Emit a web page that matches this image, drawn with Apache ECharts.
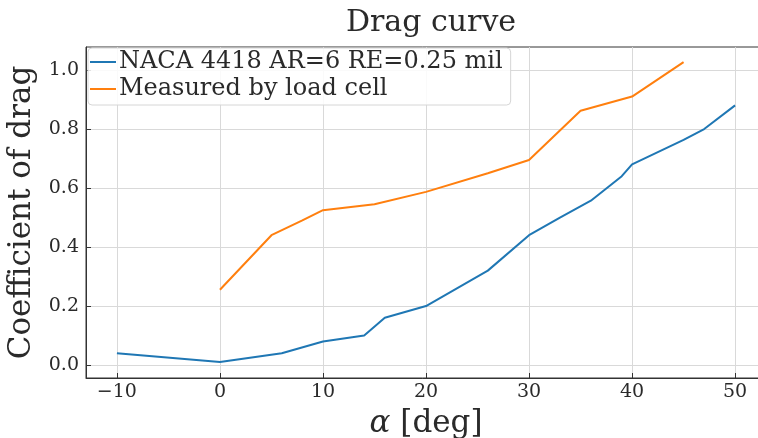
<!DOCTYPE html>
<html>
<head>
<meta charset="utf-8">
<script src="https://cdn.jsdelivr.net/npm/echarts@6/dist/echarts.min.js"></script>
<style>
  html, body { margin: 0; padding: 0; background: #fff; }
  #chart { width: 758px; height: 438px; }
</style>
</head>
<body>
<div id="chart"></div>
<script>
// angle of attack (deg) and drag coefficient
const nacaAlpha = [-10, 0, 6, 10, 14, 16, 20, 26, 30, 33, 36, 39, 40, 45, 47, 50];
const nacaCd = [0.04, 0.01, 0.04, 0.08, 0.10, 0.16, 0.20, 0.32, 0.44, 0.50, 0.557, 0.64, 0.68, 0.763, 0.80, 0.88];

const cellAlpha = [0, 5, 8, 10, 15, 20, 26, 30, 35, 40, 45];
const cellCd = [0.255, 0.44, 0.49, 0.525, 0.545, 0.587, 0.65, 0.695, 0.862, 0.91, 1.027];

const xTicks = [-10, 0, 10, 20, 30, 40, 50];
const yTicks = [0, 0.2, 0.4, 0.6, 0.8, 1.0];

const seriesNames = ['NACA 4418 AR=6 RE=0.25 mil', 'Measured by load cell'];

const FONT = 'DejaVu Serif';
const TXT = '#2a2a2a';

const chart = echarts.init(document.getElementById('chart'), null, { renderer: 'canvas' });

const options = {
    animation: false,
    backgroundColor: '#fff',
    title: {
        text: 'Drag curve',
        left: 426,
        top: 3,
        textAlign: 'center',
        textStyle: { fontFamily: FONT, fontSize: 30, fontWeight: 'normal', color: TXT },
    },
    legend: {
        orient: 'vertical',
        left: 88,
        top: 48,
        icon: 'rect',
        itemWidth: 26,
        itemHeight: 2,
        itemGap: 3,
        padding: [2, 8, 4, 2],
        backgroundColor: 'rgba(255,255,255,0.85)',
        borderColor: '#d6d6d6',
        borderWidth: 1,
        borderRadius: 4,
        textStyle: { fontFamily: FONT, fontSize: 24, color: TXT, padding: [0, 0, 0, -2] },
        data: seriesNames,
    },
    grid: {
        left: 86,
        right: -8,
        top: 47,
        bottom: 60,
        outerBoundsMode: 'none',
        show: true,
        borderColor: '#333',
        borderWidth: 1,
    },
    xAxis: {
        type: 'value',
        min: -13,
        max: 53,
        name: '{a|α} [deg]',
        nameLocation: 'middle',
        nameGap: 30,
        nameTextStyle: {
            fontFamily: FONT, fontSize: 31, color: TXT,
            rich: { a: { fontFamily: FONT, fontSize: 31, fontStyle: 'italic', color: TXT } },
        },
        axisLine: { onZero: false, lineStyle: { color: '#333', width: 1 } },
        axisTick: { inside: true, length: 5, customValues: xTicks, lineStyle: { color: '#333' } },
        axisLabel: {
            customValues: xTicks,
            margin: 5,
            fontFamily: FONT, fontSize: 19, color: TXT,
            formatter: v => (v < 0 ? '\u2212' + (-v) : String(v)),
        },
        splitLine: { show: true, lineStyle: { color: '#d9d9d9', width: 1 } },
    },
    yAxis: {
        type: 'value',
        min: -0.044,
        max: 1.078,
        name: 'Coefficient of drag',
        nameLocation: 'middle',
        nameGap: 44,
        nameTextStyle: { fontFamily: FONT, fontSize: 31, color: TXT },
        axisLine: { show: true, onZero: false, lineStyle: { color: '#333', width: 1 } },
        axisTick: { show: true, inside: true, length: 5, customValues: yTicks, lineStyle: { color: '#333' } },
        axisLabel: {
            customValues: yTicks,
            margin: 7,
            fontFamily: FONT, fontSize: 19, color: TXT,
            formatter: v => v.toFixed(1),
        },
        splitLine: { show: true, lineStyle: { color: '#d9d9d9', width: 1 } },
    },
    series: [
        {
            name: seriesNames[0],
            type: 'line',
            data: nacaAlpha.map((a, i) => [a, nacaCd[i]]),
            symbol: 'none',
            lineStyle: { width: 2, color: '#1f77b4' },
            itemStyle: { color: '#1f77b4' },
        },
        {
            name: seriesNames[1],
            type: 'line',
            data: cellAlpha.map((a, i) => [a, cellCd[i]]),
            symbol: 'none',
            lineStyle: { width: 2, color: '#ff7f0e' },
            itemStyle: { color: '#ff7f0e' },
        },
    ],
};

chart.setOption(options);
</script>
</body>
</html>
